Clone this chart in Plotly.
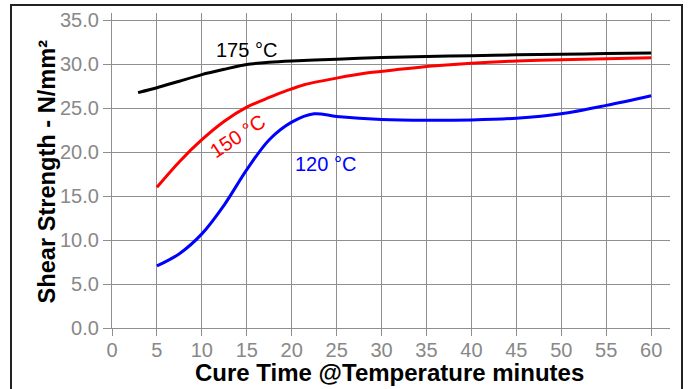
import plotly.graph_objects as go

# Data
x175 = [2.9, 5, 7.5, 10, 12.5, 15, 17.5, 20, 25, 30, 35, 40, 45, 50, 55, 60]
y175 = [26.75, 27.3, 28.05, 28.8, 29.4, 29.95, 30.2, 30.35, 30.55, 30.75, 30.85, 30.95, 31.05, 31.1, 31.2, 31.25]

x150 = [5, 7.5, 10, 12.5, 15, 17.5, 19.5, 21.4, 25, 28.5, 32, 36, 40, 45, 50, 55, 60]
y150 = [16.0, 18.9, 21.4, 23.5, 25.1, 26.2, 27.0, 27.65, 28.4, 29.0, 29.4, 29.8, 30.1, 30.35, 30.5, 30.6, 30.7]

x120 = [5, 7.5, 10, 12.5, 15, 17.5, 20, 22.5, 25, 30, 35, 40, 45, 50, 55, 60]
y120 = [7.05, 8.45, 10.7, 14.0, 18.0, 21.4, 23.4, 24.35, 24.05, 23.7, 23.6, 23.65, 23.85, 24.35, 25.3, 26.4]

x_ticks = [0, 5, 10, 15, 20, 25, 30, 35, 40, 45, 50, 55, 60]
y_ticks = [0, 5, 10, 15, 20, 25, 30, 35]
y_tick_labels = [f"{v:.1f}" for v in y_ticks]

FONT = "Arial, Liberation Sans, sans-serif"
GRID = "#8f8f8f"

fig = go.Figure()
for xs, ys, col, sm in [(x175, y175, "#000000", 0.6), (x150, y150, "#ff0000", 0.9), (x120, y120, "#0000ff", 0.9)]:
    fig.add_trace(go.Scatter(x=xs, y=ys, mode="lines",
                             line=dict(color=col, width=3, shape="spline", smoothing=sm),
                             showlegend=False, hoverinfo="skip"))

fig.add_annotation(x=14.95, y=31.6, text="175 °C", showarrow=False,
                   font=dict(family=FONT, size=20, color="#000000"))
fig.add_annotation(x=14.0, y=21.8, text="150 °C", showarrow=False, textangle=-33,
                   font=dict(family=FONT, size=20, color="#ff0000"))
fig.add_annotation(x=23.8, y=18.6, text="120 °C", showarrow=False,
                   font=dict(family=FONT, size=20, color="#0000ff"))

# axis titles
fig.add_annotation(xref="paper", yref="paper", x=0.4973, y=-0.1397,
                   text="<b>Cure Time @Temperature minutes</b>", showarrow=False,
                   xanchor="center", yanchor="middle",
                   font=dict(family=FONT, size=24, color="#000000"))
fig.add_annotation(xref="paper", yref="paper", x=-0.1168, y=0.4965,
                   text="<b>Shear Strength - N/mm²</b>", showarrow=False, textangle=-90,
                   xanchor="center", yanchor="middle",
                   font=dict(family=FONT, size=23.6, color="#000000"))

# outer frame
fig.add_shape(type="rect", xref="paper", yref="paper",
              x0=-0.181, x1=1.0215, y0=-0.25, y1=1.0254,
              line=dict(color="#222222", width=2), layer="above")

fig.update_layout(
    width=689, height=389,
    margin=dict(l=112, r=19, t=13, b=61),
    paper_bgcolor="white", plot_bgcolor="white",
    font=dict(family=FONT, color="#888888"),
    xaxis=dict(range=[0, 62.1], tickvals=x_ticks, ticktext=[str(v) for v in x_ticks],
               showgrid=True, gridcolor=GRID, gridwidth=1.2,
               showline=True, linecolor=GRID, linewidth=1.2,
               ticks="outside", ticklen=7, tickcolor=GRID, tickwidth=1.2,
               tickfont=dict(family=FONT, size=20, color="#888888"),
               ticklabelstandoff=-3,
               zeroline=False, automargin=False),
    yaxis=dict(range=[0, 35.8], tickvals=y_ticks, ticktext=y_tick_labels,
               showgrid=True, gridcolor=GRID, gridwidth=1.2,
               showline=True, linecolor=GRID, linewidth=1.2,
               ticks="outside", ticklen=8, tickcolor=GRID, tickwidth=1.2,
               tickfont=dict(family=FONT, size=20, color="#888888"),
               zeroline=False, automargin=False),
)

fig.write_html("out.html", config={"displayModeBar": False},
               post_script="document.body.style.margin='0';document.body.style.overflow='hidden';")
